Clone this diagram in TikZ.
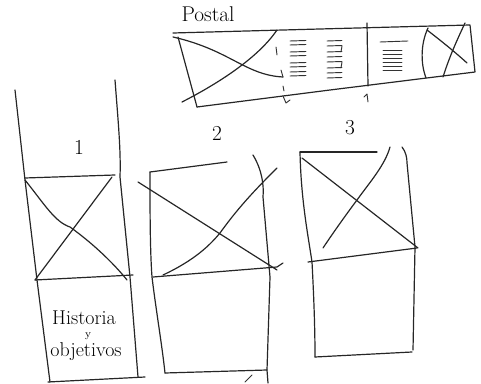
\documentclass[tikz,border=0pt]{standalone}
\usepackage{tikz}

\begin{document}
\begin{tikzpicture}[x=0.75pt,y=-0.75pt,line cap=round,line join=round,
  ink/.style={line width=0.9pt, black!85},
  inkthin/.style={line width=0.7pt, black!80},
  hand/.style={font=\fontsize{16}{18}\selectfont, inner sep=0pt}]
\useasboundingbox (0,0) rectangle (481,384);

% ===== Postal banner =====
\node[hand] (title) at (208,14) {Postal};
\draw[ink] (173,33) -- (320,29) -- (470,25) -- (475,72) -- (330,90) -- (197,107);
\draw[ink] (178,37) -- (197,107);
% image cross in first cell
\draw[ink] (173,37) .. controls (230,50) and (245,75) .. (283,77);
\draw[ink] (182,102) .. controls (225,80) and (260,55) .. (277,30);
% broken divider
\draw[inkthin] (276,47) -- (277,55);
\draw[inkthin] (281,70) -- (283,77);
\draw[inkthin] (283,86) -- (284,91);
\draw[inkthin] (283,96) -- (286,103) -- (290,100);
% text lines, second cell
\foreach \y in {41,45,52,56,63,67,72,76}
  \draw[inkthin] (290,\y) -- (306,\y-0.5);
\foreach \y in {41,46,52,57,62,68,73,78}
  \draw[inkthin] (327,\y) -- (342,\y-0.5);
\draw[inkthin] (342,46) -- (341,52);
\draw[inkthin] (342,62) -- (341,68);
% solid divider
\draw[ink] (367,23) -- (368,86);
\draw[inkthin] (364,97) -- (367,94) -- (368,102);
% text lines, third cell
\draw[inkthin] (380,42) -- (408,41);
\foreach \y in {50,54,58,62,66,70}
  \draw[inkthin] (383,\y) -- (402,\y);
% curved divider and image cross in last cell
\draw[ink] (428,28) .. controls (420,45) and (421,65) .. (426,78);
\draw[ink] (427,30) .. controls (440,40) and (455,52) .. (467,63);
\draw[ink] (443,77) .. controls (450,55) and (458,38) .. (465,23);

% ===== Column numbers =====
\node[hand] (n1) at (79,147) {1};
\node[hand] (n2) at (217,133) {2};
\node[hand] (n3) at (350,128) {3};

% ===== Column 1 =====
\draw[ink] (15,90) -- (25,180) -- (37,280) -- (50,382);
\draw[ink] (115,80) .. controls (118,120) and (121,150) .. (120,177) -- (130,277) -- (138,377);
\draw[ink] (25,178) -- (115,175);
\draw[ink] (35,280) -- (133,275);
\draw[ink] (25,180) .. controls (45,205) and (55,222) .. (70,227) .. controls (95,245) and (115,265) .. (127,280);
\draw[ink] (35,280) -- (112,177);
\draw[ink] (48,382) -- (145,377);
\node[hand, font=\fontsize{15}{17}\selectfont] (hist) at (84,318) {Historia};
\node[hand, font=\fontsize{8}{9}\selectfont] (y) at (88,336) {y};
\node[hand, font=\fontsize{15}{17}\selectfont] (obj) at (86,352) {objetivos};

% ===== Column 2 =====
\draw[ink] (150,172) .. controls (150,210) and (150,250) .. (152,277) .. controls (156,310) and (162,345) .. (165,373);
\draw[ink] (150,172) -- (227,162);
\draw[ink] (253,155) .. controls (262,170) and (264,185) .. (263,197) -- (270,277) -- (267,370) -- (268,383);
\draw[ink] (153,277) -- (277,267) -- (283,263);
\draw[ink] (138,182) -- (277,270);
\draw[ink] (163,275) .. controls (195,260) and (210,245) .. (220,233) .. controls (240,205) and (260,185) .. (277,168);
\draw[ink] (165,373) -- (267,370);
\draw[inkthin] (245,382) -- (252,375);

% ===== Column 3 =====
\draw[ink] (300,152) -- (377,152);
\draw[ink] (300,152) .. controls (301,200) and (308,235) .. (312,262) .. controls (314,300) and (315,330) .. (315,357);
\draw[ink] (402,147) .. controls (406,152) and (407,158) .. (407,163) -- (415,247) -- (413,350);
\draw[ink] (315,357) -- (412,352);
\draw[ink] (308,262) -- (417,248);
\draw[ink] (302,158) -- (418,248);
\draw[ink] (323,248) .. controls (335,230) and (348,212) .. (357,200) .. controls (370,182) and (385,165) .. (390,147);
\end{tikzpicture}
\end{document}
